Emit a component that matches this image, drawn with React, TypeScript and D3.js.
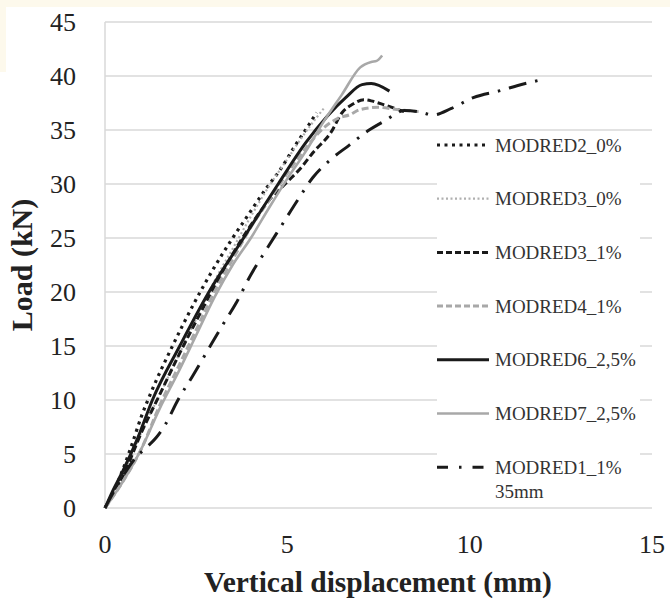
import React from "react";
import * as d3 from "d3";

const xTicks = [0, 5, 10, 15];
const yTicks = [0, 5, 10, 15, 20, 25, 30, 35, 40, 45];

const seriesNames = [
  "MODRED2_0%",
  "MODRED3_0%",
  "MODRED3_1%",
  "MODRED4_1%",
  "MODRED6_2,5%",
  "MODRED7_2,5%",
  "MODRED1_1%",
];

const modred2_0: [number, number][] = [
  [0, 0], [0.3, 2], [0.7, 5.5], [1.0, 8.5], [1.25, 10.6], [1.85, 15], [2.45, 19],
  [3.0, 22.3], [3.5, 25], [3.9, 27], [4.4, 29.5], [4.8, 31.3], [5.26, 33.8],
  [5.5, 35], [5.8, 36.6],
];
const modred3_0: [number, number][] = [
  [0, 0], [0.5, 3], [1, 7], [1.5, 10.5], [2, 14], [2.5, 17.5], [3, 21],
  [3.5, 24], [4, 27], [4.5, 29.8], [5, 32.3], [5.5, 34.8], [6.0, 37.0],
];
const modred3_1: [number, number][] = [
  [0, 0], [0.5, 3], [1, 7], [1.5, 10.5], [2, 14], [2.5, 17.3], [3, 20.5],
  [3.5, 23.5], [4, 26.2], [4.5, 28.5], [5, 30.2], [5.4, 31.6], [5.7, 32.9],
  [6.2, 34.8], [6.5, 36.6], [6.8, 37.4], [7.1, 37.8], [7.3, 37.7], [7.5, 37.5],
  [8.2, 36.7],
];
const modred4_1: [number, number][] = [
  [0, 0], [0.5, 2.5], [1, 5.5], [1.5, 9.5], [2, 13], [2.5, 16.5], [3, 20],
  [3.5, 23], [4, 26], [4.5, 28.5], [5, 31], [5.5, 33.3], [6, 35.2],
  [6.4, 36.1], [6.7, 36.4], [7.0, 36.9], [7.5, 37.1], [8.0, 36.9], [8.6, 36.7],
];
const modred6_25: [number, number][] = [
  [0, 0], [0.2, 1.5], [0.5, 3.5], [0.9, 6.5], [1.3, 10], [2.05, 15], [2.85, 20],
  [3.8, 25], [4.75, 30], [5.5, 33.8], [6.1, 36.3], [6.6, 38.0], [7.05, 39.2],
  [7.3, 39.3], [7.8, 38.6],
];
const modred7_25: [number, number][] = [
  [0, 0], [0.5, 2.5], [1, 5.5], [1.5, 9.2], [2, 12.5], [2.5, 16], [3, 19.5],
  [3.5, 22.5], [4, 25], [4.5, 27.8], [5, 30.5], [5.5, 33], [6, 35.8],
  [6.5, 38.3], [7, 40.8], [7.3, 41.3], [7.45, 41.4], [7.6, 41.9],
];
const modred1_1: [number, number][] = [
  [0, 0], [0.5, 3], [0.85, 4.7], [1.1, 5.5], [1.4, 6.5], [1.65, 7.7], [2.0, 10],
  [2.4, 12.2], [2.8, 14.5], [3.2, 16.8], [3.6, 19], [4.0, 21.6], [4.4, 23.8],
  [4.85, 26.2], [5.3, 28.6], [5.7, 30.6], [6.2, 32.3], [6.7, 33.6], [7.2, 34.9],
  [7.7, 35.9], [8.2, 36.8], [8.6, 36.7], [9.0, 36.4], [9.5, 37.0], [10.1, 38.0],
  [10.9, 38.7], [11.3, 39.1], [11.9, 39.6],
];

const seriesData = [modred2_0, modred3_0, modred3_1, modred4_1, modred6_25, modred7_25, modred1_1];

const styles = [
  { color: "#1a1a1a", width: 3.2, dash: "3 4.5" },
  { color: "#b0b0b0", width: 2.2, dash: "2 2.5" },
  { color: "#1a1a1a", width: 3, dash: "7 3.5" },
  { color: "#a8a8a8", width: 3, dash: "7 3.5" },
  { color: "#1a1a1a", width: 3, dash: "none" },
  { color: "#a8a8a8", width: 2.6, dash: "none" },
  { color: "#1a1a1a", width: 3, dash: "18 9 2.5 9" },
];

const legendDash = ["3 4.5", "2 2.5", "6 3", "6 3", "none", "none", "11 11 2.5 11"];

export default function App() {
  const left = 105, right = 652, top = 22, bottom = 508;
  const x = d3.scaleLinear().domain([0, 15]).range([left, right]);
  const y = d3.scaleLinear().domain([0, 45]).range([bottom, top]);
  const line = d3
    .line<[number, number]>()
    .x((d) => x(d[0]))
    .y((d) => y(d[1]))
    .curve(d3.curveMonotoneX);

  const legX0 = 437, legX1 = 489, legTextX = 495;
  const legY0 = 145, legStep = 53.7;
  const font = "'Liberation Serif', 'Times New Roman', serif";

  return (
    <svg
      width={670}
      height={605}
      style={{ position: "absolute", left: 0, top: 0, background: "#ffffff" }}
    >
      <rect x={0} y={0} width={670} height={7} fill="#fdf9ec" />
      <rect x={0} y={7} width={6} height={65} fill="#fdf9ec" />
      {yTicks.map((t) => (
        <line key={"g" + t} x1={left} x2={right} y1={y(t)} y2={y(t)} stroke="#d9d9d9" strokeWidth={1.5} />
      ))}
      <line x1={left} x2={left} y1={top} y2={bottom} stroke="#d9d9d9" strokeWidth={1.5} />
      {yTicks.map((t) => (
        <text key={"yt" + t} x={76} y={y(t)} dy="0.35em" textAnchor="end" fontFamily={font} fontSize={26} fill="#222">
          {t}
        </text>
      ))}
      {xTicks.map((t) => (
        <text key={"xt" + t} x={x(t)} y={553} textAnchor="middle" fontFamily={font} fontSize={26} fill="#222">
          {t}
        </text>
      ))}
      <text
        transform={`translate(32,${(top + bottom) / 2}) rotate(-90)`}
        textAnchor="middle"
        fontFamily={font}
        fontWeight="bold"
        fontSize={30}
        fill="#222"
      >
        Load (kN)
      </text>
      <text x={378} y={592} textAnchor="middle" fontFamily={font} fontWeight="bold" fontSize={29.5} fill="#222">
        Vertical displacement (mm)
      </text>
      {seriesData.map((s, i) => (
        <path
          key={"s" + i}
          d={line(s) || ""}
          fill="none"
          stroke={styles[i].color}
          strokeWidth={styles[i].width}
          strokeDasharray={styles[i].dash}
          strokeLinejoin="round"
        />
      ))}
      <rect x={437} y={136} width={203} height={366} fill="#ffffff" />
      {seriesNames.map((n, i) => {
        const ly = legY0 + i * legStep;
        return (
          <g key={"l" + i}>
            <line
              x1={legX0}
              x2={legX1}
              y1={ly}
              y2={ly}
              stroke={styles[i].color}
              strokeWidth={styles[i].width}
              strokeDasharray={legendDash[i]}
            />
            <text x={legTextX} y={ly} dy="0.35em" fontFamily={font} fontSize={19} fill="#333">
              {n}
            </text>
            {i === 6 && (
              <text x={legTextX} y={ly + 24} dy="0.35em" fontFamily={font} fontSize={19} fill="#333">
                35mm
              </text>
            )}
          </g>
        );
      })}
    </svg>
  );
}
